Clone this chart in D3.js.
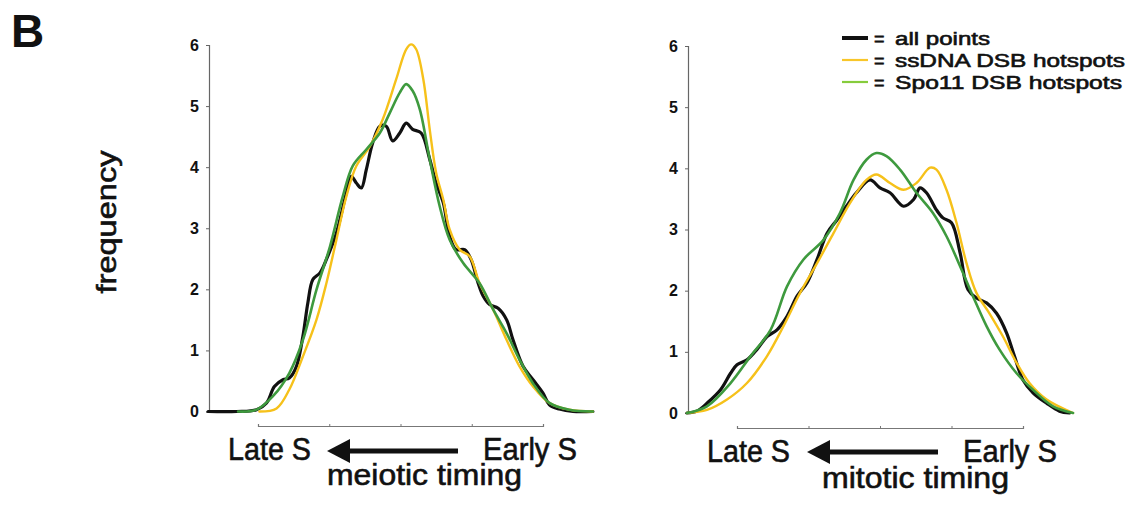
<!DOCTYPE html>
<html>
<head>
<meta charset="utf-8">
<script src="https://cdn.jsdelivr.net/npm/d3@7"></script>
<style>
  html, body { margin: 0; padding: 0; background: #fff; }
  svg { display: block; font-family: "Liberation Sans", Arial, sans-serif; }
  .heavy { stroke: #111; stroke-width: 0.6px; }
</style>
</head>
<body>
<svg id="chart" width="1135" height="507"></svg>
<script>
// x is timing in axis-tick units (0..4 = Late S .. Early S axis), y is frequency
const yTicks = [0, 1, 2, 3, 4, 5, 6];
const xTicks = [0, 1, 2, 3, 4];

const meioticAll = [[-0.7,0],[-0.3,0],[-0.02,0.03],[0.12,0.14],[0.23,0.41],[0.35,0.52],[0.44,0.55],[0.54,0.74],
  [0.63,1.23],[0.70,1.78],[0.77,2.16],[0.87,2.27],[0.96,2.49],[1.10,2.92],[1.24,3.58],[1.31,3.85],[1.38,3.74],
  [1.45,3.66],[1.52,3.96],[1.61,4.40],[1.71,4.67],[1.80,4.67],[1.89,4.43],[1.99,4.56],[2.08,4.72],[2.17,4.62],
  [2.29,4.56],[2.41,4.13],[2.50,3.74],[2.60,3.42],[2.69,2.87],[2.78,2.65],[2.90,2.65],[2.99,2.49],[3.09,2.10],
  [3.16,1.89],[3.25,1.75],[3.37,1.69],[3.49,1.50],[3.58,1.17],[3.72,0.74],[3.86,0.52],[4.0,0.30],[4.09,0.11],
  [4.23,0.04],[4.42,0],[4.7,0]];
const meioticSsDNA = [[0.02,0],[0.26,0.05],[0.44,0.36],[0.63,0.9],[0.82,1.5],[0.96,2.1],[1.10,2.81],[1.24,3.52],
  [1.38,4.02],[1.57,4.34],[1.75,4.78],[1.94,5.44],[2.08,5.93],[2.15,6.01],[2.22,5.93],[2.32,5.44],[2.41,4.62],
  [2.50,3.91],[2.60,3.47],[2.69,2.98],[2.83,2.65],[2.97,2.54],[3.11,2.10],[3.30,1.67],[3.49,1.17],[3.67,0.74],
  [3.86,0.41],[4.09,0.14],[4.37,0.03],[4.7,0]];
const meioticSpo11 = [[-0.28,0],[-0.02,0.03],[0.21,0.25],[0.44,0.63],[0.63,1.17],[0.82,1.99],[1.01,2.70],[1.19,3.52],
  [1.33,4.02],[1.52,4.29],[1.71,4.56],[1.85,4.89],[1.99,5.22],[2.08,5.36],[2.17,5.25],[2.27,4.95],[2.41,4.13],
  [2.55,3.36],[2.69,2.81],[2.88,2.43],[3.11,2.10],[3.30,1.67],[3.49,1.28],[3.67,0.85],[3.86,0.46],[4.09,0.14],
  [4.37,0.03],[4.7,0]];

const mitoticAll = [[-0.7,0],[-0.56,0.03],[-0.42,0.16],[-0.23,0.38],[-0.09,0.65],[0,0.79],[0.14,0.87],[0.28,1.04],
  [0.42,1.25],[0.56,1.36],[0.70,1.58],[0.84,1.91],[0.98,2.13],[1.12,2.51],[1.26,2.94],[1.40,3.16],[1.53,3.38],
  [1.67,3.60],[1.86,3.81],[2.0,3.68],[2.14,3.60],[2.33,3.38],[2.47,3.49],[2.56,3.68],[2.65,3.60],[2.79,3.32],
  [2.88,3.19],[3.0,3.11],[3.12,2.62],[3.23,2.02],[3.35,1.88],[3.49,1.80],[3.63,1.63],[3.77,1.31],[3.88,0.93],
  [4.0,0.54],[4.14,0.33],[4.33,0.16],[4.51,0.03],[4.65,0]];
const mitoticSsDNA = [[-0.7,0],[-0.42,0.05],[-0.14,0.22],[0.14,0.49],[0.42,0.93],[0.65,1.42],[0.88,1.96],[1.12,2.45],
  [1.35,2.94],[1.58,3.43],[1.81,3.81],[1.95,3.90],[2.14,3.76],[2.33,3.65],[2.51,3.76],[2.70,4.01],[2.79,3.98],
  [2.93,3.65],[3.07,3.11],[3.21,2.45],[3.35,1.96],[3.53,1.63],[3.72,1.25],[3.91,0.82],[4.09,0.49],[4.33,0.22],
  [4.7,0]];
const mitoticSpo11 = [[-0.7,0],[-0.42,0.11],[-0.09,0.49],[0.19,0.93],[0.47,1.36],[0.70,2.07],[0.93,2.51],[1.21,2.83],
  [1.44,3.27],[1.63,3.81],[1.81,4.14],[1.95,4.25],[2.09,4.20],[2.28,3.98],[2.51,3.60],[2.74,3.27],[2.93,2.89],
  [3.12,2.40],[3.30,1.91],[3.49,1.42],[3.67,1.04],[3.91,0.65],[4.14,0.38],[4.42,0.11],[4.7,0]];

const seriesNames = ["all points", "ssDNA DSB hotspots", "Spo11 DSB hotspots"];
const seriesColors = ["#111111", "#f6c11a", "#3e9a3e"];
const legendColors = ["#111111", "#f8c62a", "#86cc3c"];
const seriesWidths = [3.2, 2.4, 2.6];

const svg = d3.select("#chart");

// panel letter and shared y title
svg.append("text").attr("x", 11).attr("y", 47)
  .attr("font-size", 46).attr("font-weight", "bold").attr("fill", "#111").text("B");

svg.append("text").attr("class", "heavy")
  .attr("transform", "translate(116,222) rotate(-90)")
  .attr("text-anchor", "middle")
  .attr("font-size", 27).attr("fill", "#111")
  .attr("textLength", 143).attr("lengthAdjust", "spacingAndGlyphs")
  .text("frequency");

const panels = [
  { series: [meioticAll, meioticSsDNA, meioticSpo11], yAxisX: 209, yTop: 45, yBot: 411.5,
    xLeft: 258, xRight: 543, xAxisY: 426, label: "meiotic timing", labelX: 327, labelW: 195, labelY: 485,
    lateX: 228, earlyX: 483, sY: 460, arrowY: 451, arrowTip: 327, arrowEnd: 458 },
  { series: [mitoticAll, mitoticSsDNA, mitoticSpo11], yAxisX: 688, yTop: 46, yBot: 413,
    xLeft: 737, xRight: 1023, xAxisY: 428, label: "mitotic timing", labelX: 822, labelW: 187, labelY: 488,
    lateX: 707, earlyX: 963, sY: 462, arrowY: 452, arrowTip: 807, arrowEnd: 938 }
];

panels.forEach(p => {
  const x = d3.scaleLinear().domain([0, 4]).range([p.xLeft, p.xRight]);
  const y = d3.scaleLinear().domain([0, 6]).range([p.yBot, p.yTop]);
  const g = svg.append("g");

  // y axis
  const ya = g.append("g").attr("transform", `translate(${p.yAxisX},0)`)
    .call(d3.axisLeft(y).tickValues(yTicks).tickSize(3).tickPadding(7).tickFormat(d3.format("d")));
  ya.select(".domain").attr("stroke", "#666").attr("stroke-width", 1.2);
  ya.selectAll(".tick line").attr("stroke", "#666");
  ya.selectAll(".tick text").attr("font-size", 16).attr("font-weight", "bold")
    .attr("fill", "#111").attr("font-family", "Liberation Sans, Arial, sans-serif");

  // x axis (separate bar under the plot)
  const xa = g.append("g").attr("transform", `translate(0,${p.xAxisY})`)
    .call(d3.axisTop(x).tickValues(xTicks).tickSize(2).tickFormat(""));
  xa.select(".domain").attr("stroke", "#777").attr("stroke-width", 1.2);
  xa.selectAll(".tick line").attr("stroke", "#777");

  const line = d3.line().x(d => x(d[0])).y(d => y(d[1])).curve(d3.curveCatmullRom.alpha(0.5));
  p.series.forEach((s, i) => {
    g.append("path").datum(s).attr("d", line).attr("fill", "none")
      .attr("stroke", seriesColors[i]).attr("stroke-width", seriesWidths[i])
      .attr("stroke-linejoin", "round").attr("stroke-linecap", "round");
  });

  // direction labels and arrow
  g.append("text").attr("class", "heavy").attr("x", p.lateX).attr("y", p.sY).attr("font-size", 31).attr("fill", "#111")
    .attr("textLength", 83).attr("lengthAdjust", "spacingAndGlyphs").text("Late S");
  g.append("text").attr("class", "heavy").attr("x", p.earlyX).attr("y", p.sY).attr("font-size", 31).attr("fill", "#111")
    .attr("textLength", 94).attr("lengthAdjust", "spacingAndGlyphs").text("Early S");
  g.append("line").attr("x1", p.arrowTip + 20).attr("x2", p.arrowEnd)
    .attr("y1", p.arrowY).attr("y2", p.arrowY).attr("stroke", "#111").attr("stroke-width", 5);
  g.append("path")
    .attr("d", `M${p.arrowTip},${p.arrowY} L${p.arrowTip + 23},${p.arrowY - 12} L${p.arrowTip + 23},${p.arrowY + 12} Z`)
    .attr("fill", "#111");
  g.append("text").attr("class", "heavy").attr("x", p.labelX).attr("y", p.labelY).attr("font-size", 29).attr("fill", "#111")
    .attr("textLength", p.labelW).attr("lengthAdjust", "spacingAndGlyphs").text(p.label);
});

// legend
const legendW = [95, 230, 227];
const legend = svg.append("g").attr("transform", "translate(842,38)");
seriesNames.forEach((name, i) => {
  const row = legend.append("g").attr("transform", `translate(0,${i * 22})`);
  row.append("line").attr("x1", 0).attr("x2", 26).attr("y1", 0).attr("y2", 0)
    .attr("stroke", legendColors[i]).attr("stroke-width", i === 0 ? 4 : 2.2);
  row.append("text").attr("class", "heavy").attr("x", 32).attr("y", 7).attr("font-size", 18).attr("fill", "#111").text("=");
  row.append("text").attr("class", "heavy").attr("x", 53).attr("y", 7).attr("font-size", 18).attr("fill", "#111")
    .attr("textLength", legendW[i]).attr("lengthAdjust", "spacingAndGlyphs").text(name);
});
</script>
</body>
</html>
